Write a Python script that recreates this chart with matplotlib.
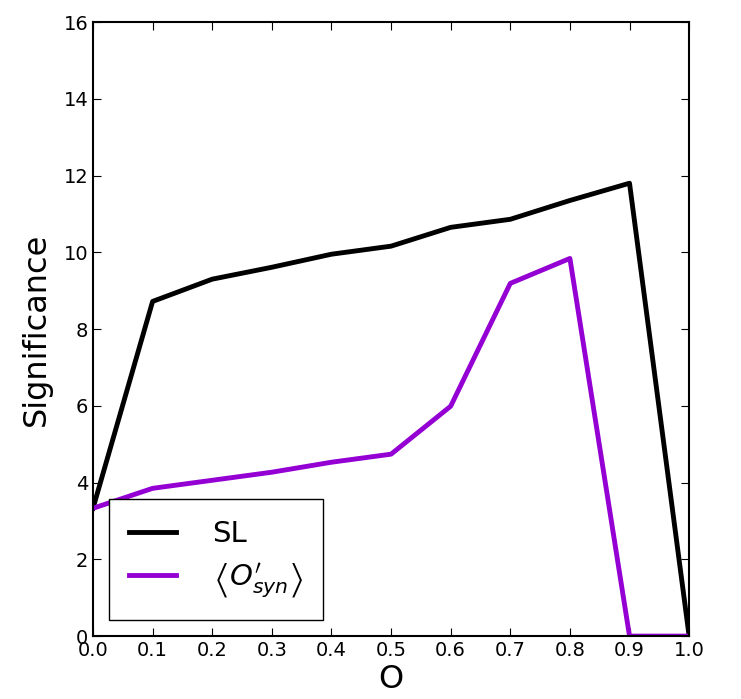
import numpy as np
import matplotlib
matplotlib.use('Agg')
import matplotlib.pyplot as plt

# values
o_cut = [0.0, 0.1, 0.2, 0.3, 0.4, 0.5, 0.6, 0.7, 0.8, 0.9, 1.0]
sig_sl = [3.33, 8.72, 9.30, 9.61, 9.95, 10.16, 10.65, 10.86, 11.35, 11.80, 0.0]
sig_osyn = [3.33, 3.85, 4.06, 4.27, 4.53, 4.74, 5.99, 9.19, 9.84, 0.0, 0.0]

fig = plt.figure(figsize=(7.41, 6.99), dpi=100)
ax = fig.add_axes([0.1255, 0.090, 0.8045, 0.8785])

ax.plot(o_cut, sig_sl, color='black', linewidth=3.5, label='SL')
ax.plot(o_cut, sig_osyn, color='#9400D3', linewidth=3.5,
        label=r"$\left\langle O^{\prime}_{syn} \right\rangle$")

ax.set_xlim(0, 1.0)
ax.set_ylim(0, 16)
ax.set_xticks(np.arange(0, 1.01, 0.1))
ax.set_yticks(np.arange(0, 17, 2))
ax.tick_params(direction='in', top=True, right=True, length=6, labelsize=14)
for s in ax.spines.values():
    s.set_linewidth(1.5)

ax.set_xlabel('O', fontsize=23, labelpad=3)
ax.set_ylabel('Significance', fontsize=23, labelpad=8)

leg = ax.legend(loc='lower left', fontsize=21, handlelength=1.6,
                borderaxespad=0.55, fancybox=False, framealpha=1,
                edgecolor='black', borderpad=0.7, labelspacing=0.45,
                handletextpad=1.25)
leg.get_frame().set_linewidth(1.0)

fig.savefig('out.png', dpi=100)
